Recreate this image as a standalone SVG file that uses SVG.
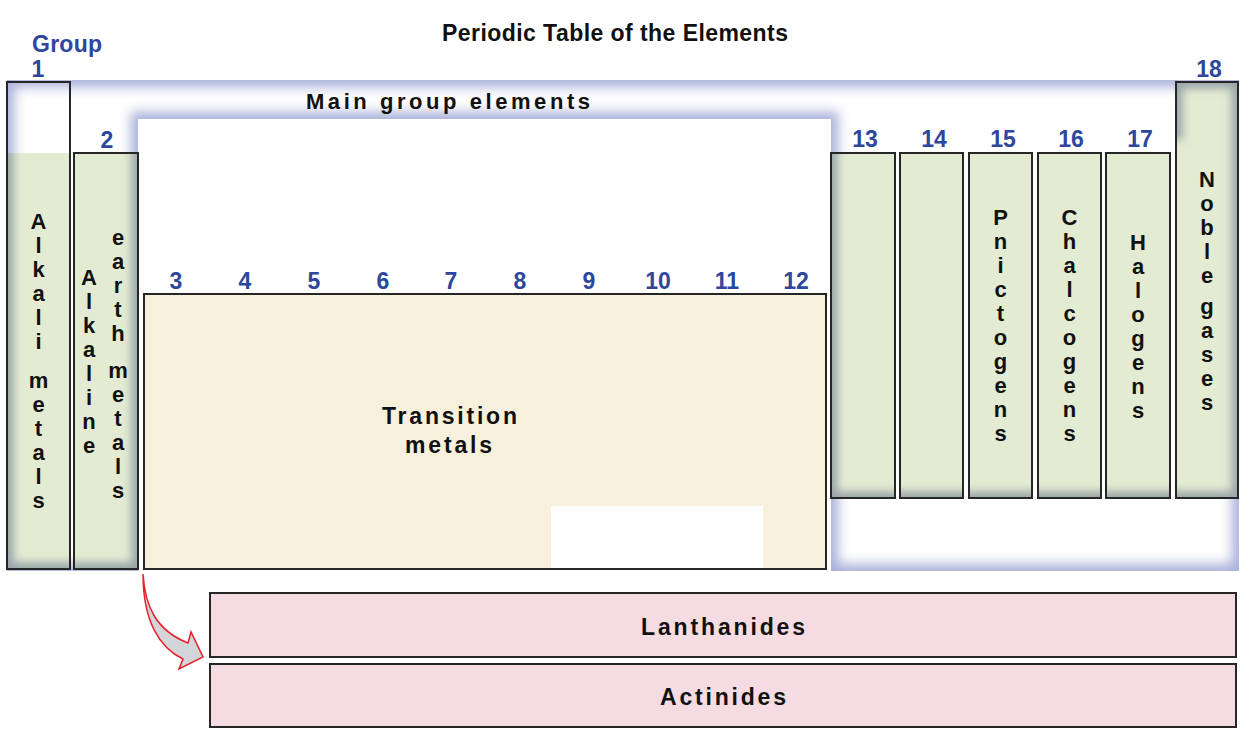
<svg xmlns="http://www.w3.org/2000/svg" width="1250" height="738" viewBox="0 0 1250 738">
<style>
.num{font-family:"Liberation Sans",Arial,sans-serif;font-weight:bold;font-size:23px;fill:#2d479c;text-anchor:middle}
.v{font-family:"Liberation Sans",Arial,sans-serif;font-weight:bold;font-size:22px;fill:#111;text-anchor:middle}
.lbl{font-family:"Liberation Sans",Arial,sans-serif;font-weight:bold;fill:#111}
.box{fill:none;stroke:#262626;stroke-width:2}
</style>
<defs>
<filter id="glowMG" x="0" y="0" width="1" height="1">
<feMorphology in="SourceAlpha" operator="erode" radius="8" result="e"/>
<feGaussianBlur in="e" stdDeviation="6" result="b"/>
<feFlood flood-color="#ffffff"/>
<feComposite in2="b" operator="in" result="w"/>
<feFlood flood-color="#aab2dc"/>
<feComposite in2="SourceAlpha" operator="in" result="blue"/>
<feComposite in="w" in2="SourceAlpha" operator="in" result="w2"/>
<feMerge><feMergeNode in="blue"/><feMergeNode in="w2"/></feMerge>
</filter>
<filter id="glowG" x="0" y="0" width="1" height="1">
<feMorphology in="SourceAlpha" operator="erode" radius="7" result="e"/>
<feGaussianBlur in="e" stdDeviation="4" result="b"/>
<feFlood flood-color="#e3ebd2"/>
<feComposite in2="b" operator="in" result="w"/>
<feFlood flood-color="#9aa5aa"/>
<feComposite in2="SourceAlpha" operator="in" result="edge"/>
<feComposite in="w" in2="SourceAlpha" operator="in" result="w2"/>
<feMerge><feMergeNode in="edge"/><feMergeNode in="w2"/></feMerge>
</filter>
<clipPath id="clipA">
<rect x="7" y="153" width="63" height="416"/>
<rect x="74" y="153" width="64" height="416"/>
</clipPath>
<clipPath id="clipB">
<rect x="831" y="153" width="64" height="345"/>
<rect x="900" y="153" width="63" height="345"/>
<rect x="969" y="153" width="63" height="345"/>
<rect x="1038" y="153" width="63" height="345"/>
<rect x="1106" y="153" width="64" height="345"/>
<rect x="1176" y="82" width="62" height="416"/>
</clipPath>
</defs>
<rect width="1250" height="738" fill="#fff"/>

<text class="lbl" x="442" y="41" font-size="23" textLength="346" lengthAdjust="spacing">Periodic Table of the Elements</text>

<g id="main-group">
<path d="M7,80 H1239 V571 H831 V119 H138 V571 H7 Z" fill="#000" filter="url(#glowMG)"/>
<text class="lbl" x="306" y="109" font-size="22" textLength="284" lengthAdjust="spacing">Main group elements</text>
</g>

<g id="green-fills">
<rect x="7" y="133" width="131" height="436" fill="#000" filter="url(#glowG)" clip-path="url(#clipA)"/>
<path d="M831,133 H1176 V82 H1238 V498 H831 Z" fill="#000" filter="url(#glowG)" clip-path="url(#clipB)"/>
</g>

<g id="group1">
<rect class="box" x="7" y="82" width="63" height="487"/>
<text class="num" x="32" y="52" style="text-anchor:start" textLength="70" lengthAdjust="spacing">Group</text>
<text class="num" x="38" y="77">1</text>
<text class="v"><tspan x="38.5" y="229">A</tspan><tspan x="38.5" y="253">l</tspan><tspan x="38.5" y="277">k</tspan><tspan x="38.5" y="301">a</tspan><tspan x="38.5" y="325">l</tspan><tspan x="38.5" y="349">i</tspan><tspan x="38.5" y="388">m</tspan><tspan x="38.5" y="412">e</tspan><tspan x="38.5" y="436">t</tspan><tspan x="38.5" y="460">a</tspan><tspan x="38.5" y="484">l</tspan><tspan x="38.5" y="508">s</tspan></text>
</g>

<g id="group2">
<rect class="box" x="74" y="153" width="64" height="416"/>
<text class="num" x="107" y="148">2</text>
<text class="v"><tspan x="89" y="285">A</tspan><tspan x="89" y="309">l</tspan><tspan x="89" y="333">k</tspan><tspan x="89" y="357">a</tspan><tspan x="89" y="381">l</tspan><tspan x="89" y="405">i</tspan><tspan x="89" y="429">n</tspan><tspan x="89" y="453">e</tspan></text>
<text class="v"><tspan x="118" y="245">e</tspan><tspan x="118" y="269">a</tspan><tspan x="118" y="293">r</tspan><tspan x="118" y="317">t</tspan><tspan x="118" y="341">h</tspan><tspan x="118" y="378">m</tspan><tspan x="118" y="402">e</tspan><tspan x="118" y="426">t</tspan><tspan x="118" y="450">a</tspan><tspan x="118" y="474">l</tspan><tspan x="118" y="498">s</tspan></text>
</g>

<g id="transition-metals">
<rect x="144" y="294" width="682" height="275" fill="#f7f0dc" stroke="#262626" stroke-width="2"/>
<rect x="551" y="506" width="212" height="62" fill="#ffffff"/>
<text class="num" x="176" y="289">3</text>
<text class="num" x="245" y="289">4</text>
<text class="num" x="314" y="289">5</text>
<text class="num" x="383" y="289">6</text>
<text class="num" x="451" y="289">7</text>
<text class="num" x="520" y="289">8</text>
<text class="num" x="589" y="289">9</text>
<text class="num" x="658" y="289">10</text>
<text class="num" x="727" y="289">11</text>
<text class="num" x="796" y="289">12</text>
<text class="lbl" x="382" y="424" font-size="23" textLength="135" lengthAdjust="spacing">Transition</text>
<text class="lbl" x="405" y="453" font-size="23" textLength="87" lengthAdjust="spacing">metals</text>
</g>

<g id="group13">
<rect class="box" x="831" y="153" width="64" height="345"/>
<text class="num" x="865" y="147">13</text>
</g>
<g id="group14">
<rect class="box" x="900" y="153" width="63" height="345"/>
<text class="num" x="934" y="147">14</text>
</g>
<g id="group15">
<rect class="box" x="969" y="153" width="63" height="345"/>
<text class="num" x="1003" y="147">15</text>
<text class="v"><tspan x="1000.5" y="225">P</tspan><tspan x="1000.5" y="249">n</tspan><tspan x="1000.5" y="273">i</tspan><tspan x="1000.5" y="297">c</tspan><tspan x="1000.5" y="321">t</tspan><tspan x="1000.5" y="345">o</tspan><tspan x="1000.5" y="369">g</tspan><tspan x="1000.5" y="393">e</tspan><tspan x="1000.5" y="417">n</tspan><tspan x="1000.5" y="441">s</tspan></text>
</g>
<g id="group16">
<rect class="box" x="1038" y="153" width="63" height="345"/>
<text class="num" x="1071" y="147">16</text>
<text class="v"><tspan x="1069.5" y="225">C</tspan><tspan x="1069.5" y="249">h</tspan><tspan x="1069.5" y="273">a</tspan><tspan x="1069.5" y="297">l</tspan><tspan x="1069.5" y="321">c</tspan><tspan x="1069.5" y="345">o</tspan><tspan x="1069.5" y="369">g</tspan><tspan x="1069.5" y="393">e</tspan><tspan x="1069.5" y="417">n</tspan><tspan x="1069.5" y="441">s</tspan></text>
</g>
<g id="group17">
<rect class="box" x="1106" y="153" width="64" height="345"/>
<text class="num" x="1140" y="147">17</text>
<text class="v"><tspan x="1138" y="250">H</tspan><tspan x="1138" y="274">a</tspan><tspan x="1138" y="298">l</tspan><tspan x="1138" y="322">o</tspan><tspan x="1138" y="346">g</tspan><tspan x="1138" y="370">e</tspan><tspan x="1138" y="394">n</tspan><tspan x="1138" y="418">s</tspan></text>
</g>
<g id="group18">
<rect class="box" x="1176" y="82" width="62" height="416"/>
<text class="num" x="1209" y="77">18</text>
<text class="v"><tspan x="1207" y="187">N</tspan><tspan x="1207" y="211">o</tspan><tspan x="1207" y="235">b</tspan><tspan x="1207" y="259">l</tspan><tspan x="1207" y="283">e</tspan><tspan x="1207" y="314">g</tspan><tspan x="1207" y="338">a</tspan><tspan x="1207" y="362">s</tspan><tspan x="1207" y="386">e</tspan><tspan x="1207" y="410">s</tspan></text>
</g>

<g id="lanthanides">
<rect x="210" y="593" width="1026" height="64" fill="#f5dce2" stroke="#262626" stroke-width="2"/>
<text class="lbl" x="641" y="635" font-size="23" textLength="164" lengthAdjust="spacing">Lanthanides</text>
</g>
<g id="actinides">
<rect x="210" y="664" width="1026" height="63" fill="#f5dce2" stroke="#262626" stroke-width="2"/>
<text class="lbl" x="660" y="705" font-size="23" textLength="126" lengthAdjust="spacing">Actinides</text>
</g>

<g id="connectors">
<path d="M143,574 C145,605 155,630 188,643 L191,632 L203,657 L179,669 L183,659 C160,648 143,622 143,574 Z" fill="#d4d5d9" stroke="#e5222b" stroke-width="1.5" stroke-linejoin="miter"/>
</g>
</svg>
